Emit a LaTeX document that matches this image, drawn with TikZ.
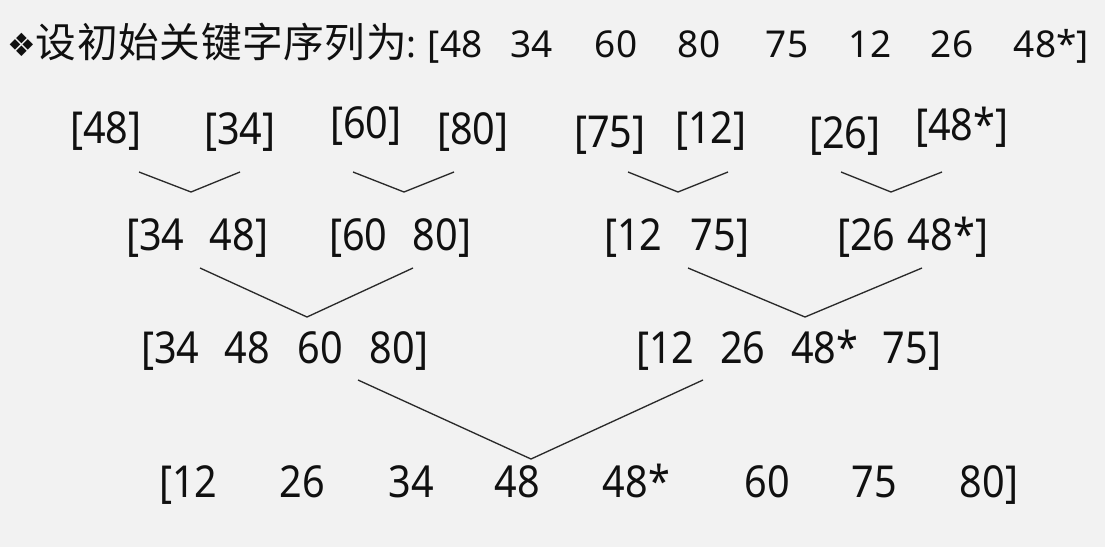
\documentclass[tikz,border=0pt]{standalone}
\usepackage{fontspec}
\setmainfont{Noto Sans}
\newfontfamily\cjkfont[LetterSpace=1.5]{Noto Sans CJK SC}
\newfontfamily\rowfont[FakeStretch=0.9]{Noto Sans}
\newfontfamily\symfont{DejaVu Sans}
\newlength\pxu
\setlength\pxu{0.75pt}
\newcommand\cell[2]{\makebox[#1\pxu][l]{#2}}
\definecolor{bgcol}{HTML}{F2F2F2}
\definecolor{inkcol}{HTML}{101010}
\definecolor{linecol}{HTML}{2A2A2A}
\tikzset{
  txt/.style={inner sep=0pt, outer sep=0pt, anchor=base west, text=inkcol},
  titletxt/.style={txt, font=\fontsize{27.75pt}{33pt}\selectfont},
  rowtxt/.style={txt, font=\rowfont\fontsize{33pt}{40pt}\selectfont},
  merge/.style={draw=linecol, line width=1pt, line join=miter}
}
\begin{document}
\begin{tikzpicture}[x=0.75pt, y=-0.75pt]
\fill[bgcol] (0,0) rectangle (1105,547);
\useasboundingbox (0,0) rectangle (1105,547);
% title line
\node[inner sep=0pt, text=inkcol, font=\symfont\fontsize{24pt}{28pt}\selectfont] (bullet) at (22,45) {❖};
\node[titletxt] (title) at (36,57) {\makebox[392\pxu][l]{{\cjkfont\fontsize{30.5pt}{36pt}\selectfont 设初始关键字序列为}:}\cell{82}{[48}\cell{85}{34}\cell{83}{60}\cell{88}{80}\cell{83}{75}\cell{82}{12}\cell{83}{26}48*]};
% row 1
\node[rowtxt] (a1) at (70,143) {[48]};
\node[rowtxt] (a2) at (204,144) {[34]};
\node[rowtxt] (a3) at (330,138) {[60]};
\node[rowtxt] (a4) at (437,144) {[80]};
\node[rowtxt] (a5) at (574,147) {[75]};
\node[rowtxt] (a6) at (675,143) {[12]};
\node[rowtxt] (a7) at (809,148) {[26]};
\node[rowtxt] (a8) at (915,140) {[48*]};
% row 2
\node[rowtxt] (b1) at (126,250) {\cell{84}{[34}48]};
\node[rowtxt] (b2) at (329,250) {\cell{84}{[60}80]};
\node[rowtxt] (b3) at (604,250) {\cell{87}{[12}75]};
\node[rowtxt] (b4) at (837,250) {\cell{71}{[26}48*]};
% row 3
\node[rowtxt] (c1) at (141,363) {\cell{84}{[34}\cell{73}{48}\cell{72}{60}80]};
\node[rowtxt] (c2) at (636,363) {\cell{84}{[12}\cell{71}{26}\cell{92}{48*}75]};
% row 4
\node[rowtxt] (d1) at (159,497) {\cell{121}{[12}\cell{109}{26}\cell{106}{34}\cell{108}{48}\cell{142}{48*}\cell{107}{60}\cell{108}{75}80]};
% merge connectors
\coordinate (m1a) at (139,172); \coordinate (m1v) at (191,192); \coordinate (m1b) at (240,172);
\coordinate (m2a) at (353,172); \coordinate (m2v) at (404,192); \coordinate (m2b) at (454,172);
\coordinate (m3a) at (628,172); \coordinate (m3v) at (678,192); \coordinate (m3b) at (728,172);
\coordinate (m4a) at (841,172); \coordinate (m4v) at (891,192); \coordinate (m4b) at (942,172);
\coordinate (m5a) at (200,268); \coordinate (m5v) at (307,317); \coordinate (m5b) at (413,268);
\coordinate (m6a) at (688,268); \coordinate (m6v) at (805,317); \coordinate (m6b) at (922,268);
\coordinate (m7a) at (358,380); \coordinate (m7v) at (531,459); \coordinate (m7b) at (703,380);
\foreach \k in {1,...,7} {\draw[merge] (m\k a) -- (m\k v) -- (m\k b);}
\end{tikzpicture}
\end{document}
